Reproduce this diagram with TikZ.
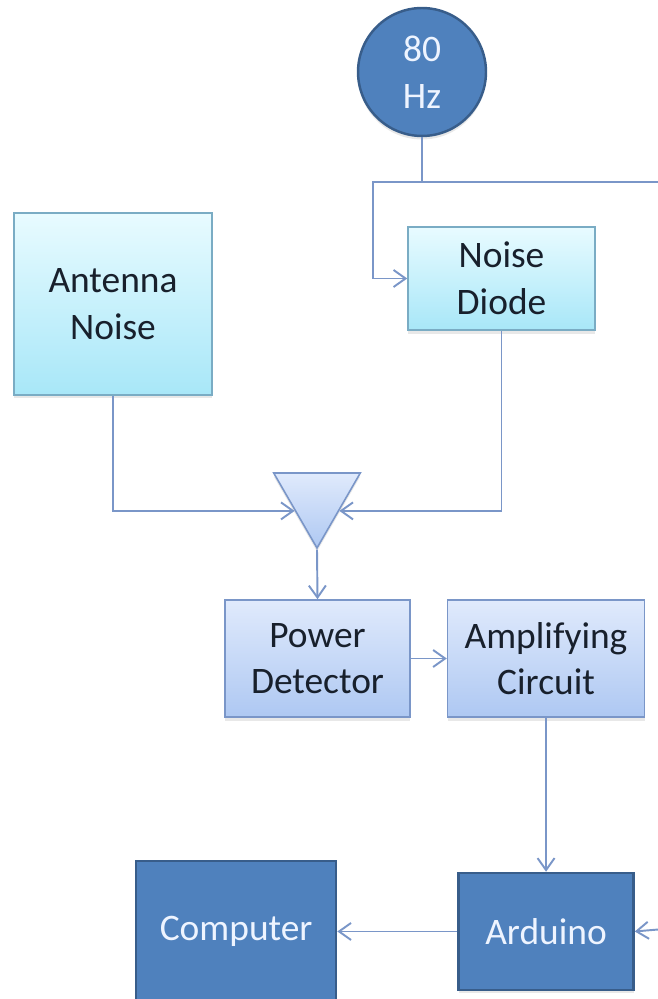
\documentclass[tikz,border=0pt]{standalone}
\usepackage{fontspec}
\setmainfont{Carlito}
\usepackage{tikz}
\usetikzlibrary{positioning,arrows.meta,shapes.geometric,shadows,calc}
\definecolor{linecol}{RGB}{122,150,200}
\definecolor{darkfill}{RGB}{79,129,189}
\definecolor{darkedge}{RGB}{56,93,138}
\definecolor{cyantop}{RGB}{232,251,255}
\definecolor{cyanbot}{RGB}{168,231,248}
\definecolor{cyanedge}{RGB}{122,172,196}
\definecolor{bluetop}{RGB}{224,234,252}
\definecolor{bluebot}{RGB}{174,200,242}
\definecolor{blueedge}{RGB}{122,150,200}
\definecolor{textdark}{RGB}{24,32,44}
\definecolor{textlight}{RGB}{238,244,255}
\tikzset{
cyanbox/.style={
draw=cyanedge,
line width=0.9pt,
top color=cyantop,
bottom color=cyanbot,
align=center,
inner sep=0pt,
text=textdark,
font=\fontsize{21.3}{26.5}\selectfont,
drop shadow={opacity=0.18,shadow xshift=0pt,shadow yshift=-2pt}
},
bluebox/.style={
cyanbox,
draw=blueedge,
top color=bluetop,
bottom color=bluebot
},
darkbox/.style={
draw=darkedge,
line width=1.4pt,
fill=darkfill,
align=center,
inner sep=0pt,
text=textlight,
font=\fontsize{21.3}{26.5}\selectfont,
drop shadow={opacity=0.18,shadow xshift=0pt,shadow yshift=-2pt}
},
ampshape/.style={
bluebox,
regular polygon,
regular polygon sides=3,
shape border rotate=180,
minimum size=2.0cm
},
line/.style={
draw=linecol,
line width=1.1pt
},
arrow/.style={
line,
-{Straight Barb[length=2.4mm,width=3.4mm]}
}
}

\begin{document}
\begin{tikzpicture}[x=0.02cm,y=-0.02cm]
\useasboundingbox (0,0) rectangle (658,999);
\node[darkbox,circle,minimum size=2.56cm](hz) at (422,72){80\\Hz};
\node[cyanbox,minimum width=3.74cm,minimum height=2.06cm](nd) at (501.5,278.5){Noise\\Diode};
\node[cyanbox,minimum width=3.96cm,minimum height=3.64cm](ant) at (113,304){Antenna\\Noise};
\node[ampshape](amp) at (317,498){};
\node[bluebox,minimum width=3.7cm,minimum height=2.34cm](pd) at (317.5,658.5){Power\\Detector};
\node[bluebox,minimum width=3.94cm,minimum height=2.34cm,right=0.72cm of pd](ac){Amplifying\\Circuit};
\node[darkbox,minimum width=3.5cm,minimum height=2.34cm,below=3.08cm of ac](ard){Arduino};
\node[darkbox,minimum width=4.0cm,minimum height=2.82cm,left=2.4cm of ard](comp){Computer};

\coordinate (jn) at (422,182);
\coordinate (bend) at (373,182);
\coordinate (topright) at (658,182);
\coordinate (inright) at (658,929.5);

\draw[line](hz)--(jn);
\draw[arrow](topright)--(bend)|-(nd.west);
\draw[arrow](ant.south)|-(amp.side 3);
\draw[arrow](nd.south)|-(amp.side 1);
\draw[arrow](amp.south)--(pd.north);
\draw[arrow](pd)--(ac);
\draw[arrow](ac)--(ard);
\draw[arrow](ard.west)--(ard.west-|comp.east);
\draw[arrow](inright)--(ard.east);
\end{tikzpicture}
\end{document}
